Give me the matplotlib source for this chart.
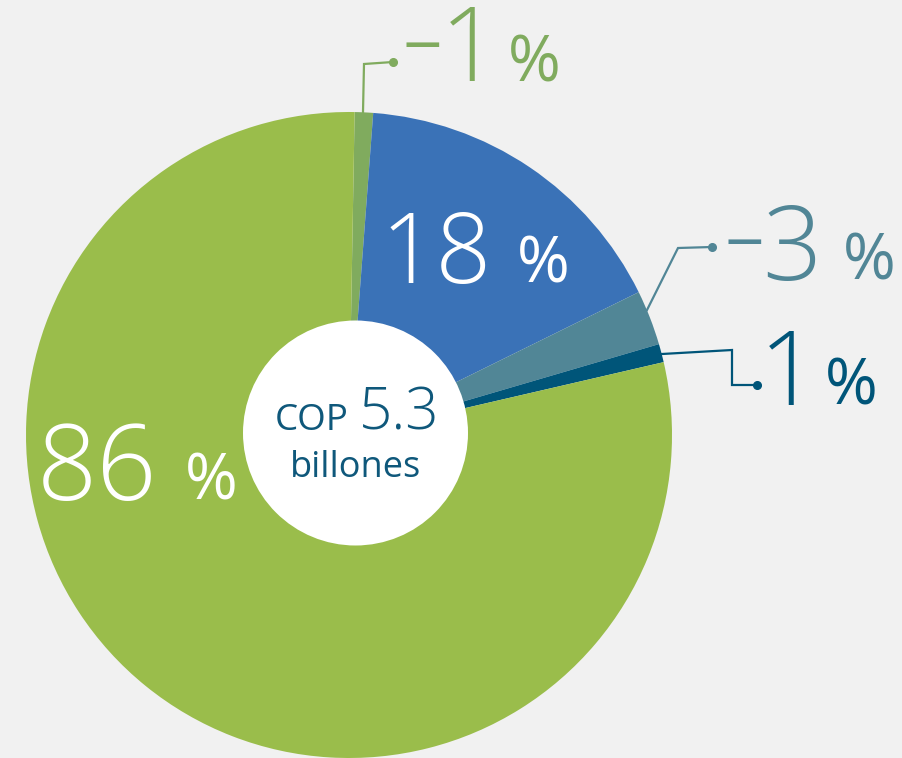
import numpy as np
import matplotlib
matplotlib.use("Agg")
import matplotlib.pyplot as plt
from matplotlib.patches import Circle

# Composition shares (%), clockwise from the top of the pie
segments = ["A", "B", "C", "D", "E"]
shares = [-1, 18, -3, 1, 86]
colors = ["#80ab5e", "#3a72b7", "#518696", "#005579", "#9abd4b"]
label_colors = ["#80ab5e", "#ffffff", "#518696", "#005579", "#ffffff"]

center_prefix = "COP"
center_value = "5.3"
center_unit = "billones"

W, H = 903, 758
BG = "#f1f1f1"
FONT = ["Open Sans", "DejaVu Sans"]

fig = plt.figure(figsize=(W / 100, H / 100), dpi=100, facecolor=BG)
ax = fig.add_axes([0, 0, 1, 1])
ax.set_facecolor(BG)

cx, cy, R = 349, H - 435, 323
sizes = [abs(v) for v in shares]
ax.pie(sizes, colors=colors, startangle=89, counterclock=False,
       center=(cx, cy), radius=R, wedgeprops=dict(linewidth=0, edgecolor="none"))

ax.set_xlim(0, W)
ax.set_ylim(0, H)
ax.set_aspect("equal")
ax.axis("off")

# white hub with the total
ax.add_patch(Circle((355.5, H - 433), 112.5, facecolor="white", edgecolor="none", zorder=5))
hub_color = "#0f587b"
ax.text(349, H - 430, center_prefix, ha="right", va="baseline", fontsize=26.5,
        color=hub_color, family=FONT, fontweight="normal", zorder=6)
ax.text(359, H - 430, center_value, ha="left", va="baseline", fontsize=42,
        color=hub_color, family=FONT, fontweight="light", zorder=6)
ax.text(356, H - 477, center_unit, ha="center", va="baseline", fontsize=26,
        color=hub_color, family=FONT, fontweight="normal", zorder=6)

# label anchors: (right edge of number, left edge of %, baseline, number size,
#                 right edge of minus sign, baseline of minus sign)
label_pos = [
    (499, 508, 81, 75, 442, 69),
    (492, 517, 283, 70, None, None),
    (822, 843, 280, 75, 764, 266),
    (818, 825, 405, 75, None, None),
    (157, 185, 500, 76, None, None),
]
for v, c, (xr, xp, yb, fs, xm, ym) in zip(shares, label_colors, label_pos):
    ax.text(xr, H - yb, f"{abs(v)}", ha="right", va="baseline", fontsize=fs,
            color=c, family=FONT, fontweight="light", zorder=7)
    if v < 0:
        ax.text(xm, H - ym, "\u2212", ha="right", va="baseline", fontsize=50,
                color=c, family=FONT, fontweight="normal", zorder=7)
    ax.text(xp, H - yb, "%", ha="left", va="baseline", fontsize=46, color=c,
            family=FONT, fontweight="normal", zorder=7)

# leader lines for the thin slices
leaders = [
    ([363, 364, 393], [112, 64, 62], colors[0]),
    ([647, 678, 712], [310, 248, 247], colors[2]),
    ([662, 732, 732, 757], [354, 350, 385, 385], colors[3]),
]
for xs, ys, c in leaders:
    ys = [H - y for y in ys]
    ax.plot(xs, ys, color=c, lw=1.6, solid_joinstyle="miter", zorder=4)
    ax.plot(xs[-1], ys[-1], "o", color=c, ms=5.5, zorder=4)

fig.savefig("out.png", dpi=100, facecolor=BG)
